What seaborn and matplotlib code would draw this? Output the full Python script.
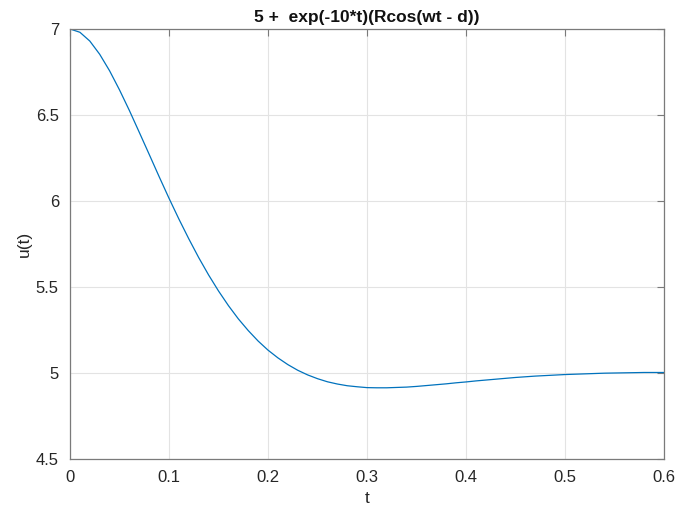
import matplotlib
matplotlib.use("Agg")
import matplotlib.pyplot as plt
import seaborn as sns
import pandas as pd

# values
t_values = [0.00, 0.01, 0.02, 0.03, 0.04, 0.05, 0.06, 0.07, 0.08, 0.09,
            0.10, 0.11, 0.12, 0.13, 0.14, 0.15, 0.16, 0.17, 0.18, 0.19,
            0.20, 0.21, 0.22, 0.23, 0.24, 0.25, 0.26, 0.27, 0.28, 0.29,
            0.30, 0.31, 0.32, 0.33, 0.34, 0.35, 0.36, 0.37, 0.38, 0.39,
            0.40, 0.41, 0.42, 0.43, 0.44, 0.45, 0.46, 0.47, 0.48, 0.49,
            0.50, 0.51, 0.52, 0.53, 0.54, 0.55, 0.56, 0.57, 0.58, 0.59, 0.60]
u_values = [7.000, 6.981, 6.930, 6.853, 6.757, 6.646, 6.526, 6.399, 6.271, 6.142,
            6.016, 5.895, 5.780, 5.671, 5.570, 5.477, 5.392, 5.315, 5.247, 5.186,
            5.133, 5.088, 5.049, 5.016, 4.989, 4.967, 4.949, 4.936, 4.926, 4.920,
            4.915, 4.914, 4.914, 4.916, 4.918, 4.922, 4.927, 4.932, 4.937, 4.943,
            4.948, 4.954, 4.959, 4.964, 4.969, 4.974, 4.978, 4.982, 4.985, 4.988,
            4.991, 4.993, 4.995, 4.997, 4.999, 5.000, 5.001, 5.002, 5.003, 5.003, 5.003]
x_ticks = [0, 0.1, 0.2, 0.3, 0.4, 0.5, 0.6]
x_ticklabels = ["0", "0.1", "0.2", "0.3", "0.4", "0.5", "0.6"]
y_ticks = [4.5, 5, 5.5, 6, 6.5, 7]
y_ticklabels = ["4.5", "5", "5.5", "6", "6.5", "7"]
title = "5 +  exp(-10*t)(Rcos(wt - d))"

sns.set_style("white")
plt.rcParams['font.family'] = ['Liberation Sans', 'DejaVu Sans']

df = pd.DataFrame({"t": t_values, "u": u_values})

fig = plt.figure(figsize=(6.89, 5.07), dpi=100)
ax = fig.add_axes([70/689, 1-459/507, (664-70)/689, (459-29)/507])
sns.lineplot(data=df, x="t", y="u", ax=ax, color="#0072BD", linewidth=0.9)

ax.set_xlim(0, 0.6)
ax.set_ylim(4.5, 7)
ax.set_xticks(x_ticks)
ax.set_xticklabels(x_ticklabels)
ax.set_yticks(y_ticks)
ax.set_yticklabels(y_ticklabels)
ax.grid(True, color="#e3e3e3", linewidth=0.8)
ax.set_axisbelow(True)
for s in ax.spines.values():
    s.set_color("#7a7a7a")
    s.set_linewidth(0.9)
ax.tick_params(direction="in", length=5, width=0.8, color="#7a7a7a",
               top=True, right=True, labelsize=12, labelcolor="#262626", pad=8)
ax.set_xlabel("t", fontsize=12.5, color="#262626", labelpad=4)
ax.set_ylabel("u(t)", fontsize=12.5, color="#262626", labelpad=3)
ax.set_title(title, fontsize=12.5, fontweight="bold", color="#111111", pad=5)

fig.savefig("out.png", dpi=100, facecolor="white")
